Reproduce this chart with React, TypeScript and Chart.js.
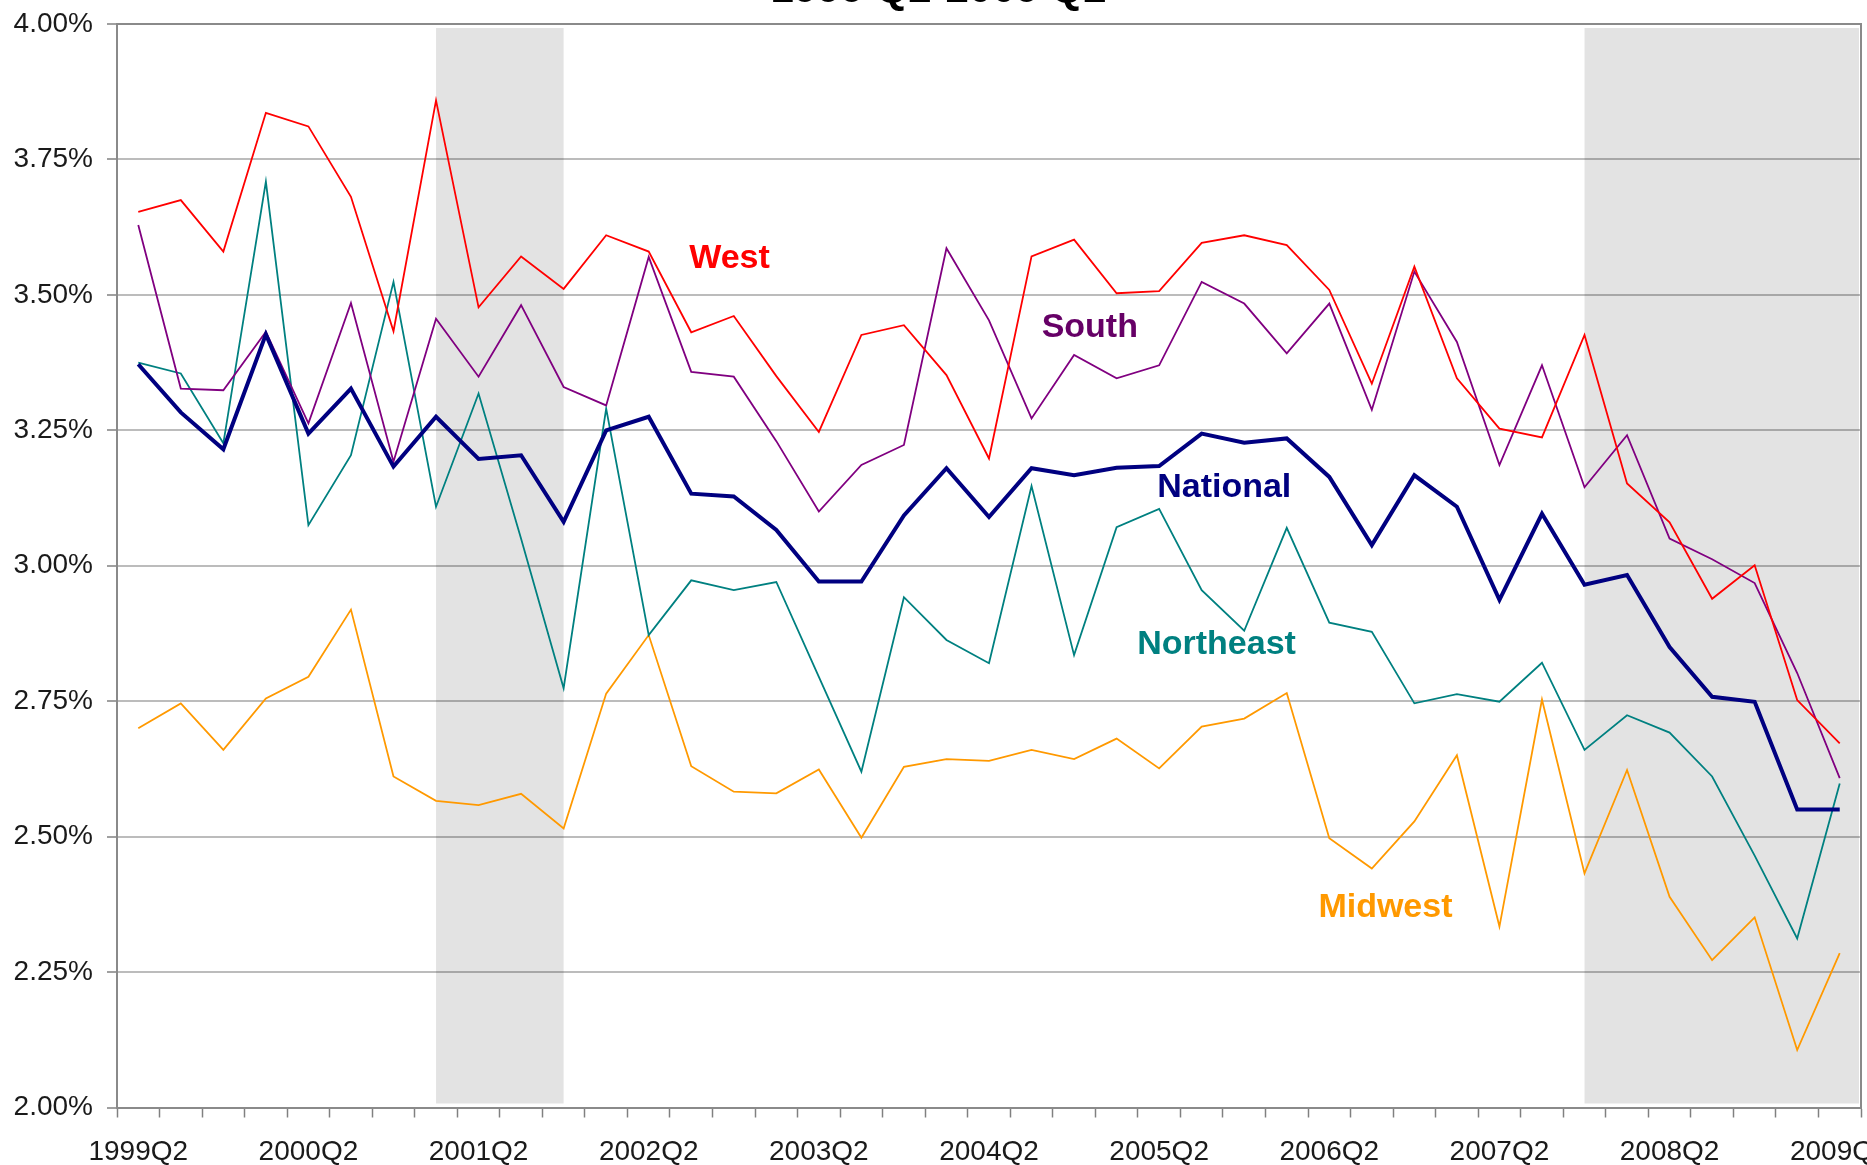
import React, { useEffect, useRef } from 'react';
import { Chart, registerables } from 'chart.js';

Chart.register(...registerables);

const categories = [
  '1999Q2', '1999Q3', '1999Q4',
  '2000Q1', '2000Q2', '2000Q3', '2000Q4',
  '2001Q1', '2001Q2', '2001Q3', '2001Q4',
  '2002Q1', '2002Q2', '2002Q3', '2002Q4',
  '2003Q1', '2003Q2', '2003Q3', '2003Q4',
  '2004Q1', '2004Q2', '2004Q3', '2004Q4',
  '2005Q1', '2005Q2', '2005Q3', '2005Q4',
  '2006Q1', '2006Q2', '2006Q3', '2006Q4',
  '2007Q1', '2007Q2', '2007Q3', '2007Q4',
  '2008Q1', '2008Q2', '2008Q3', '2008Q4',
  '2009Q1', '2009Q2',
];

const tickLabels = [
  '1999Q2', '2000Q2', '2001Q2', '2002Q2', '2003Q2', '2004Q2',
  '2005Q2', '2006Q2', '2007Q2', '2008Q2', '2009Q2',
];

const westValues = [
  3.653, 3.675, 3.580, 3.836, 3.811, 3.681, 3.433, 3.859, 3.477, 3.571,
  3.511, 3.610, 3.580, 3.431, 3.461, 3.350, 3.247, 3.426, 3.444, 3.352,
  3.198, 3.571, 3.602, 3.503, 3.507, 3.596, 3.610, 3.592, 3.509, 3.336,
  3.552, 3.346, 3.253, 3.237, 3.426, 3.152, 3.080, 2.939, 3.001, 2.752,
  2.672,
];

const southValues = [
  3.629, 3.327, 3.324, 3.432, 3.263, 3.485, 3.192, 3.456, 3.349, 3.481,
  3.330, 3.296, 3.570, 3.358, 3.349, 3.230, 3.100, 3.186, 3.223, 3.586,
  3.453, 3.272, 3.389, 3.346, 3.370, 3.524, 3.484, 3.392, 3.484, 3.288,
  3.543, 3.413, 3.186, 3.370, 3.145, 3.241, 3.050, 3.012, 2.968, 2.802,
  2.608,
];

const nationalValues = [
  3.372, 3.283, 3.215, 3.427, 3.244, 3.327, 3.183, 3.275, 3.197, 3.204,
  3.081, 3.250, 3.275, 3.133, 3.128, 3.066, 2.971, 2.971, 3.093, 3.180,
  3.090, 3.180, 3.167, 3.181, 3.184, 3.244, 3.227, 3.235, 3.164, 3.038,
  3.167, 3.109, 2.937, 3.096, 2.965, 2.983, 2.850, 2.758, 2.749, 2.550,
  2.550,
];

const northeastValues = [
  3.375, 3.355, 3.226, 3.709, 3.075, 3.204, 3.524, 3.109, 3.318, 3.050,
  2.774, 3.290, 2.872, 2.973, 2.955, 2.970, 2.795, 2.620, 2.942, 2.863,
  2.820, 3.147, 2.835, 3.071, 3.105, 2.955, 2.880, 3.070, 2.895, 2.878,
  2.746, 2.763, 2.749, 2.821, 2.660, 2.724, 2.692, 2.611, 2.465, 2.312,
  2.598,
];

const midwestValues = [
  2.700, 2.746, 2.660, 2.755, 2.795, 2.919, 2.611, 2.566, 2.558, 2.579,
  2.515, 2.764, 2.872, 2.630, 2.583, 2.580, 2.624, 2.498, 2.629, 2.643,
  2.640, 2.660, 2.643, 2.681, 2.626, 2.703, 2.718, 2.765, 2.497, 2.441,
  2.528, 2.650, 2.334, 2.753, 2.432, 2.623, 2.389, 2.272, 2.351, 2.106,
  2.285,
];

// Recession bands (from category, to category; null = to the end of the axis)
const recessionBands: { from: string; to: string | null }[] = [
  { from: '2001Q1', to: '2001Q4' },
  { from: '2007Q4', to: null },
];

// In-plot series labels, anchored in data space (fractional category index, value)
const seriesLabels = [
  { text: 'West', color: '#FF0000', at: 13.9, value: 3.567 },
  { text: 'South', color: '#660066', at: 22.37, value: 3.439 },
  { text: 'National', color: '#000080', at: 25.53, value: 3.144 },
  { text: 'Northeast', color: '#008080', at: 25.35, value: 2.854 },
  { text: 'Midwest', color: '#FF9900', at: 29.32, value: 2.369 },
];

const titleText = '1999 Q2-2009 Q2';

const FONT = "'Liberation Sans', Arial, Helvetica, sans-serif";

const bandsPlugin = {
  id: 'bands',
  beforeDatasetsDraw(chart: any) {
    const { ctx, chartArea, scales } = chart;
    const x = scales.x;
    ctx.save();
    ctx.fillStyle = 'rgba(0,0,0,0.11)';
    for (const b of recessionBands) {
      const x0 = x.getPixelForValue(categories.indexOf(b.from));
      const x1 = b.to ? x.getPixelForValue(categories.indexOf(b.to)) : chartArea.right - 2;
      ctx.fillRect(x0, chartArea.top + 4, x1 - x0, chartArea.bottom - chartArea.top - 8);
    }
    ctx.restore();
  },
};

const frameAndLabelsPlugin = {
  id: 'frameAndLabels',
  afterDatasetsDraw(chart: any) {
    const { ctx, chartArea, scales } = chart;
    ctx.save();
    ctx.strokeStyle = '#8a8a8a';
    ctx.lineWidth = 2;
    ctx.beginPath();
    ctx.moveTo(chartArea.left, chartArea.top);
    ctx.lineTo(chartArea.right, chartArea.top);
    ctx.lineTo(chartArea.right, chartArea.bottom);
    ctx.stroke();

    ctx.font = `bold 34px ${FONT}`;
    ctx.textAlign = 'center';
    ctx.textBaseline = 'middle';
    for (const l of seriesLabels) {
      ctx.fillStyle = l.color;
      ctx.fillText(l.text, scales.x.getPixelForValue(l.at), scales.y.getPixelForValue(l.value));
    }

    ctx.fillStyle = '#000000';
    ctx.font = `bold 42px ${FONT}`;
    ctx.textBaseline = 'alphabetic';
    ctx.fillText(titleText, chart.width / 2 + 5, 2);
    ctx.restore();
  },
};

export default function App() {
  const canvasRef = useRef<HTMLCanvasElement | null>(null);

  useEffect(() => {
    if (!canvasRef.current) return;
    const thin = 1.8;
    const chart = new Chart(canvasRef.current, {
      type: 'line',
      data: {
        labels: categories,
        datasets: [
          { label: 'National', data: nationalValues, borderColor: '#000080', borderWidth: 4 },
          { label: 'West', data: westValues, borderColor: '#FF0000', borderWidth: thin },
          { label: 'South', data: southValues, borderColor: '#800080', borderWidth: thin },
          { label: 'Northeast', data: northeastValues, borderColor: '#008080', borderWidth: thin },
          { label: 'Midwest', data: midwestValues, borderColor: '#FF9900', borderWidth: thin },
        ].map((d) => ({ ...d, pointRadius: 0, tension: 0, fill: false, borderJoinStyle: 'miter' as const })),
      },
      options: {
        responsive: false,
        animation: false,
        events: [],
        layout: { padding: { top: 24, right: 6, left: 0, bottom: 0 } },
        plugins: {
          legend: { display: false },
          tooltip: { enabled: false },
          title: { display: false },
        },
        scales: {
          x: {
            type: 'category',
            offset: true,
            grid: {
              display: true,
              drawOnChartArea: false,
              drawTicks: true,
              tickLength: 10,
              offset: true,
              tickColor: '#808080',
              tickWidth: 1.5,
            },
            border: { display: true, color: '#8a8a8a', width: 2 },
            ticks: {
              autoSkip: false,
              maxRotation: 0,
              minRotation: 0,
              padding: 18,
              color: '#1a1a1a',
              font: { family: FONT, size: 28 },
              callback: (_v: any, i: number) => (tickLabels.includes(categories[i]) ? categories[i] : ''),
            },
            afterFit: (s: any) => {
              s.height = 57.5;
              s.paddingLeft = 0;
              s.paddingRight = 0;
            },
          },
          y: {
            min: 2,
            max: 4,
            grid: {
              color: '#bcbcbc',
              lineWidth: 2,
              drawTicks: true,
              tickLength: 10,
              tickColor: '#808080',
              tickWidth: 1.5,
            },
            border: { display: true, color: '#8a8a8a', width: 2 },
            ticks: {
              stepSize: 0.25,
              padding: 14,
              color: '#1a1a1a',
              font: { family: FONT, size: 28 },
              callback: (v: any) => Number(v).toFixed(2) + '%',
            },
            afterFit: (s: any) => {
              s.width = 117;
              s.paddingTop = 0;
              s.paddingBottom = 0;
            },
          },
        },
      },
      plugins: [bandsPlugin, frameAndLabelsPlugin],
    });
    return () => chart.destroy();
  }, []);

  return (
    <div style={{ position: 'fixed', left: 0, top: 0, width: 1867, height: 1165, background: '#ffffff' }}>
      <canvas ref={canvasRef} width={1867} height={1165} style={{ display: 'block' }} />
    </div>
  );
}
